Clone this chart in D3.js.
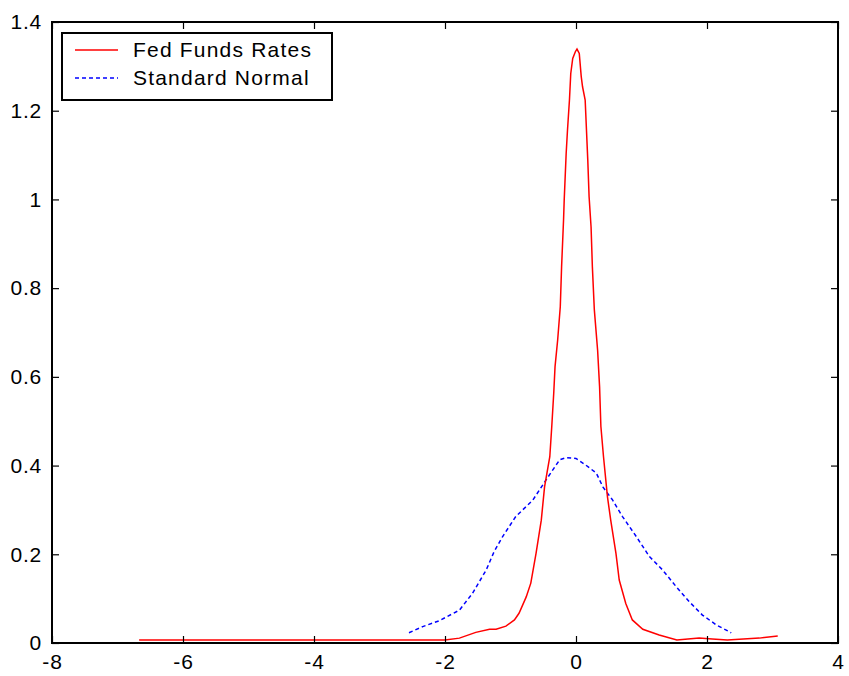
<!DOCTYPE html>
<html>
<head>
<meta charset="utf-8">
<script src="https://cdn.jsdelivr.net/npm/d3@7"></script>
<style>
  body { margin: 0; background: #fff; }
  svg text { font-family: "Liberation Sans", Arial, sans-serif; }
</style>
</head>
<body>
<div id="chart"></div>
<script>
// Fed Funds Rates (empirical density)
const fedX = [-6.67, -2.0, -1.78, -1.53, -1.32, -1.22, -1.07, -0.94, -0.87, -0.76, -0.69, -0.61,
    -0.53, -0.48, -0.40, -0.37, -0.34, -0.32, -0.28, -0.24, -0.22, -0.19, -0.18, -0.15, -0.13,
    -0.10, -0.08, -0.05, -0.01, 0.015, 0.05, 0.08, 0.10, 0.14, 0.16, 0.18, 0.20, 0.23, 0.25,
    0.28, 0.33, 0.36, 0.38, 0.42, 0.48, 0.53, 0.61, 0.66, 0.76, 0.86, 1.02, 1.27, 1.54, 1.88,
    2.08, 2.31, 2.80, 3.08];
const fedY = [0.007, 0.007, 0.011, 0.024, 0.031, 0.031, 0.038, 0.052, 0.067, 0.104, 0.135, 0.202,
    0.277, 0.352, 0.420, 0.488, 0.563, 0.623, 0.683, 0.758, 0.848, 0.954, 0.999, 1.104, 1.156,
    1.224, 1.284, 1.318, 1.333, 1.339, 1.329, 1.277, 1.254, 1.224, 1.156, 1.088, 1.006, 0.938, 0.848,
    0.751, 0.660, 0.578, 0.488, 0.420, 0.330, 0.277, 0.202, 0.142, 0.089, 0.052, 0.031, 0.018, 0.007, 0.011,
    0.009, 0.007, 0.011, 0.016];

// Standard Normal (sampled density)
const normX = [-2.55, -2.34, -2.09, -1.78, -1.58, -1.37, -1.25, -1.12, -0.92, -0.66, -0.46, -0.25,
    -0.15, 0.0, 0.15, 0.31, 0.41, 0.56, 0.71, 0.92, 1.12, 1.32, 1.53, 1.73, 1.93, 2.14, 2.37];
const normY = [0.023, 0.037, 0.050, 0.074, 0.112, 0.165, 0.206, 0.240, 0.285, 0.322, 0.367, 0.413,
    0.418, 0.416, 0.401, 0.383, 0.352, 0.322, 0.285, 0.240, 0.195, 0.165, 0.127, 0.093, 0.063, 0.041, 0.023];

const xTicks = [-8, -6, -4, -2, 0, 2, 4];
const yTicks = [0, 0.2, 0.4, 0.6, 0.8, 1, 1.2, 1.4];
const seriesNames = ["Fed Funds Rates", "Standard Normal"];

const W = 849, H = 676;
const plotBox = {left: 52, right: 838, top: 22, bottom: 643};

const svg = d3.select("#chart").append("svg")
    .attr("width", W)
    .attr("height", H);

const xScale = d3.scaleLinear().domain([-8, 4]).range([plotBox.left, plotBox.right]);
const yScale = d3.scaleLinear().domain([0, 1.4]).range([plotBox.bottom, plotBox.top]);

const line = d3.line()
    .x(d => xScale(d[0]))
    .y(d => yScale(d[1]));

svg.append("path")
    .datum(normX.map((x, i) => [x, normY[i]]))
    .attr("fill", "none")
    .attr("stroke", "#0000ff")
    .attr("stroke-width", 1.5)
    .attr("stroke-dasharray", "4,3")
    .attr("d", line);

svg.append("path")
    .datum(fedX.map((x, i) => [x, fedY[i]]))
    .attr("fill", "none")
    .attr("stroke", "#ff0000")
    .attr("stroke-width", 1.5)
    .attr("d", line);

// axes: ticks inward, box around
const tickLen = 7;
function styleAxis(g) {
    g.select(".domain").remove();
    g.selectAll(".tick line").attr("stroke", "#000").attr("stroke-width", 1.2);
    g.selectAll(".tick text")
        .attr("fill", "#000")
        .style("font-size", "21px")
        .style("letter-spacing", "0.8px");
}

svg.append("g")
    .attr("transform", "translate(0," + plotBox.bottom + ")")
    .call(d3.axisBottom(xScale).tickValues(xTicks).tickSize(-tickLen).tickPadding(11).tickFormat(d => String(d)))
    .call(styleAxis);

svg.append("g")
    .attr("transform", "translate(0," + plotBox.top + ")")
    .call(d3.axisTop(xScale).tickValues(xTicks).tickSize(-tickLen).tickFormat(""))
    .call(styleAxis);

svg.append("g")
    .attr("transform", "translate(" + plotBox.left + ",0)")
    .call(d3.axisLeft(yScale).tickValues(yTicks).tickSize(-tickLen).tickPadding(10)
        .tickFormat(d => (d === 0 || d === 1) ? String(d) : d3.format(".1f")(d)))
    .call(styleAxis);

svg.append("g")
    .attr("transform", "translate(" + plotBox.right + ",0)")
    .call(d3.axisRight(yScale).tickValues(yTicks).tickSize(-tickLen).tickFormat(""))
    .call(styleAxis);

svg.append("rect")
    .attr("x", plotBox.left).attr("y", plotBox.top)
    .attr("width", plotBox.right - plotBox.left).attr("height", plotBox.bottom - plotBox.top)
    .attr("fill", "none")
    .attr("stroke", "#000")
    .attr("stroke-width", 2);

// Legend
const legend = svg.append("g").attr("transform", "translate(62,33)");
legend.append("rect")
    .attr("width", 270).attr("height", 67)
    .attr("fill", "#fff")
    .attr("stroke", "#000")
    .attr("stroke-width", 2);

const styles = [{color: "#ff0000", dash: null}, {color: "#0000ff", dash: "4,3"}];
seriesNames.forEach((name, i) => {
    const y = 17 + i * 28;
    legend.append("line")
        .attr("x1", 13).attr("x2", 56)
        .attr("y1", y).attr("y2", y)
        .attr("stroke", styles[i].color)
        .attr("stroke-width", 1.5)
        .attr("stroke-dasharray", styles[i].dash);
    legend.append("text")
        .attr("x", 71).attr("y", y)
        .attr("dy", "0.35em")
        .style("font-size", "21px")
        .style("letter-spacing", "1.2px")
        .text(name);
});
</script>
</body>
</html>
